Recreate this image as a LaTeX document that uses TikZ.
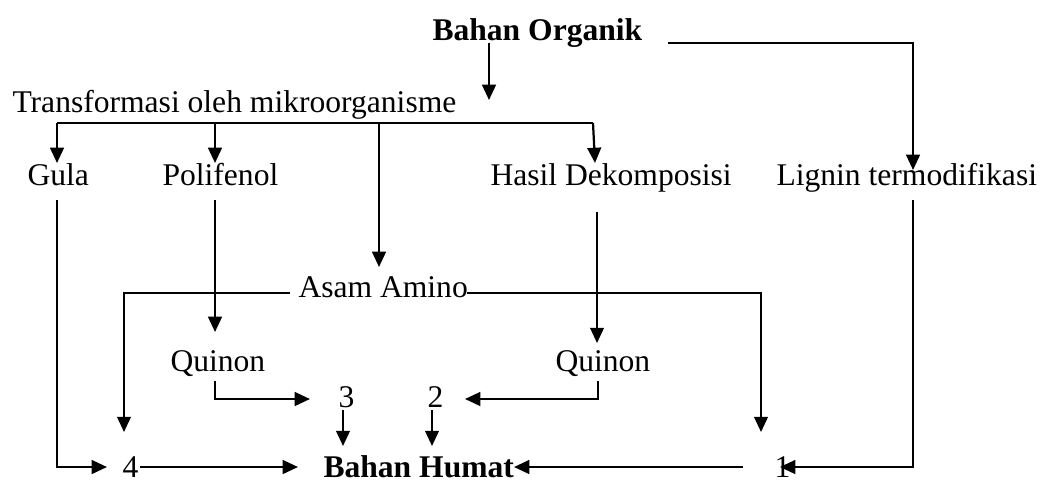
\documentclass[tikz,border=0pt]{standalone}
\usepackage{fontspec}
\setmainfont{Liberation Serif}
\usetikzlibrary{arrows.meta}
\begin{document}
\begin{tikzpicture}[x=0.38pt,y=-0.38pt,
  lbl/.style={anchor=base west,inner sep=0pt,font=\fontsize{12}{14}\selectfont},
  ln/.style={line width=0.85pt},
  arr/.style={line width=0.85pt,-{Triangle[length=5.8pt,width=5.2pt]}}]
\useasboundingbox (0,0) rectangle (1043,482);
% texts
\node[lbl] (bo) at (432,40) {\textbf{Bahan Organik}};
\node[lbl] (tr) at (12,112) {Transformasi oleh mikroorganisme};
\node[lbl] (gula) at (27,185) {Gula};
\node[lbl] (poli) at (162,185) {Polifenol};
\node[lbl] (hasil) at (490,185) {Hasil Dekomposisi};
\node[lbl] (lig) at (776,185) {Lignin termodifikasi};
\node[lbl] (asam) at (298,297) {Asam Amino};
\node[lbl] (q1) at (170,371) {Quinon};
\node[lbl] (q2) at (555,371) {Quinon};
\node[lbl] (n3) at (338,407) {3};
\node[lbl] (n2) at (427,407) {2};
\node[lbl] (n4) at (122,477) {4};
\node[lbl] (bh) at (323,477) {\textbf{Bahan Humat}};
\node[lbl] (n1) at (774,477) {1};
% connectors
\draw[arr] (489,43) -- (489,100);
\draw[arr] (668,43) -| (913,170);
\draw[ln] (57,123) -- (593,123);
\draw[arr] (57,123) -- (57,163);
\draw[arr] (215,123) -- (215,163);
\draw[arr] (379,123) -- (379,267);
\draw[arr] (593,123) -- (595,163);
\draw[arr] (57,200) |- (107,467);
\draw[arr] (215,200) -- (215,332);
\draw[arr] (597,212) -- (597,343);
\draw[arr] (290,293) -| (124,432);
\draw[arr] (467,293) -| (761,432);
\draw[arr] (215,381) |- (310,399);
\draw[arr] (598,381) |- (465,399);
\draw[arr] (343,410) -- (343,446);
\draw[arr] (432,410) -- (432,446);
\draw[arr] (140,467) -- (298,467);
\draw[arr] (743,467) -- (514,467);
\draw[arr] (913,200) |- (780,467);
\end{tikzpicture}
\end{document}
